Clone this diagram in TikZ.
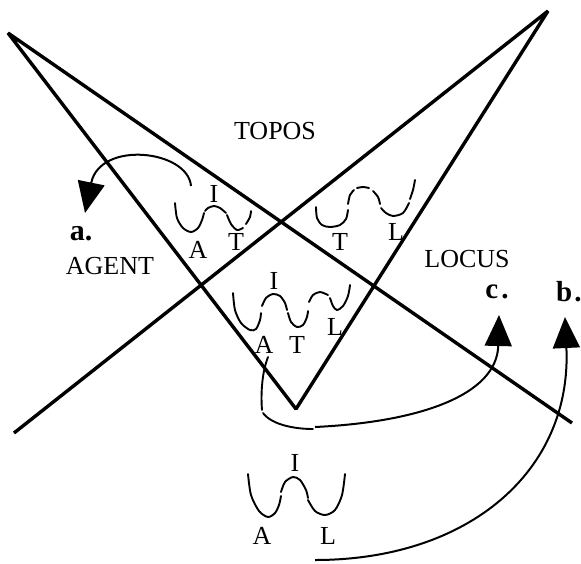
\documentclass[tikz,border=0pt]{standalone}
\usepackage{fontspec}
\setmainfont{Liberation Serif}
\usetikzlibrary{arrows.meta}
\begin{document}
\begin{tikzpicture}[x=1pt,y=-1pt,
  bigline/.style={line width=3.4pt, line join=bevel},
  wave/.style={line width=1.9pt, line cap=round},
  conn/.style={line width=2pt, -{Triangle[length=31pt,width=27pt]}},
  lbl/.style={inner sep=0pt, font=\fontsize{26}{30}\selectfont},
  blbl/.style={inner sep=0pt, font=\fontsize{30}{34}\selectfont\bfseries}]
\useasboundingbox (0,0) rectangle (581,563);
% main lines
\coordinate (tl) at (8,33);
\coordinate (tr) at (548,11);
\coordinate (vb) at (296,409);
\coordinate (re) at (572,423);
\coordinate (le) at (14,433);
\draw[bigline] (re) -- (tl) -- (vb) -- (tr) -- (le);
% region labels
\node[lbl] (topos) at (275,131) {TOPOS};
\node[lbl] (agent) at (110,266) {AGENT};
\node[lbl] (locus) at (467,259) {LOCUS};
\node[blbl] (la) at (81,234) {a.};
\node[blbl, font=\fontsize{29}{32}\selectfont\bfseries] (lc) at (497,292) {c\hspace{3pt}.};
\node[blbl, font=\fontsize{29}{32}\selectfont\bfseries, anchor=west] (lb) at (556,292) {b\hspace{2pt}.};
% symbol 1: I A T
\draw[wave] plot[smooth] coordinates {(175,203) (177,218) (183,228) (191,232) (198,228) (202,220) (204,213)};
\draw[wave] plot[smooth] coordinates {(205,211) (208,208) (214,206) (220,208) (226,213)};
\draw[wave] plot[smooth] coordinates {(227,215) (231,224) (237,230) (243,228)};
\draw[wave] plot[smooth] coordinates {(246,224) (250,217) (251,211)};
\node[lbl] (i1) at (214,194) {I};
\node[lbl] (a1) at (198,250) {A};
\node[lbl] (t1) at (236,242) {T};
% symbol 2: T L
\draw[wave] plot[smooth] coordinates {(316,207) (317,218) (322,225) (330,227) (340,225) (346,219) (348,210)};
\draw[wave] plot[smooth] coordinates {(348,204) (350,195) (354,190)};
\draw[wave] plot[smooth] coordinates {(357,188) (363,187) (369,188)};
\draw[wave] plot[smooth] coordinates {(373,191) (378,197) (380,204)};
\draw[wave] plot[smooth] coordinates {(381,208) (386,213) (393,216) (403,213) (409,203)};
\draw[wave] plot[smooth] coordinates {(410,199) (413,190) (415,180)};
\node[lbl] (t2) at (340,242) {T};
\node[lbl] (l2) at (396,232) {L};
% symbol 3: I A T L
\draw[wave] plot[smooth] coordinates {(233,293) (235,310) (241,323) (250,330) (256,329) (260,320) (261,313)};
\draw[wave] plot[smooth] coordinates {(262,306) (266,298) (273,294) (280,296) (285,303) (287,310)};
\draw[wave] plot[smooth] coordinates {(288,313) (291,322) (297,327) (303,325) (307,317) (308,311)};
\draw[wave] plot[smooth] coordinates {(309,302) (313,295) (320,292) (328,295)};
\draw[wave] plot[smooth] coordinates {(330,298) (333,306) (337,310) (343,306) (348,296) (350,285)};
\node[lbl] (i3) at (274,281) {I};
\node[lbl] (a3) at (264,345) {A};
\node[lbl] (t3) at (297,345) {T};
\node[lbl] (l3) at (335,327) {L};
% symbol 4: I A L
\draw[wave] plot[smooth] coordinates {(248,474) (251,495) (259,511) (268,517) (275,513) (279,505) (281,496)};
\draw[wave] plot[smooth] coordinates {(281,492) (285,482) (293,477) (300,480) (306,490) (308,498)};
\draw[wave] plot[smooth] coordinates {(308,500) (315,511) (325,515) (335,510) (342,495) (345,474)};
\node[lbl] (i4) at (295,463) {I};
\node[lbl] (a4) at (262,536) {A};
\node[lbl] (l4) at (328,536) {L};
% connector a
\coordinate (a0) at (191,186);
\coordinate (atip) at (85,213);
\draw[conn] (a0) .. controls (188,150) and (100,140) .. (atip);
% connector c
\coordinate (c0) at (268,357);
\coordinate (c1) at (262,410);
\coordinate (c2) at (263,413);
\coordinate (c3) at (313,429);
\coordinate (c4) at (315,427);
\coordinate (ctip) at (499,315);
\draw[wave] (c0) .. controls (261,375) and (261,398) .. (c1);
\draw[wave] (c2) .. controls (272,425) and (295,429) .. (c3);
\draw[conn] (c4) .. controls (420,422) and (497,395) .. (ctip);
% connector b
\coordinate (b0) at (315,560);
\coordinate (btip) at (565,317);
\draw[conn] (b0) .. controls (470,560) and (572,470) .. (btip);
\end{tikzpicture}
\end{document}
